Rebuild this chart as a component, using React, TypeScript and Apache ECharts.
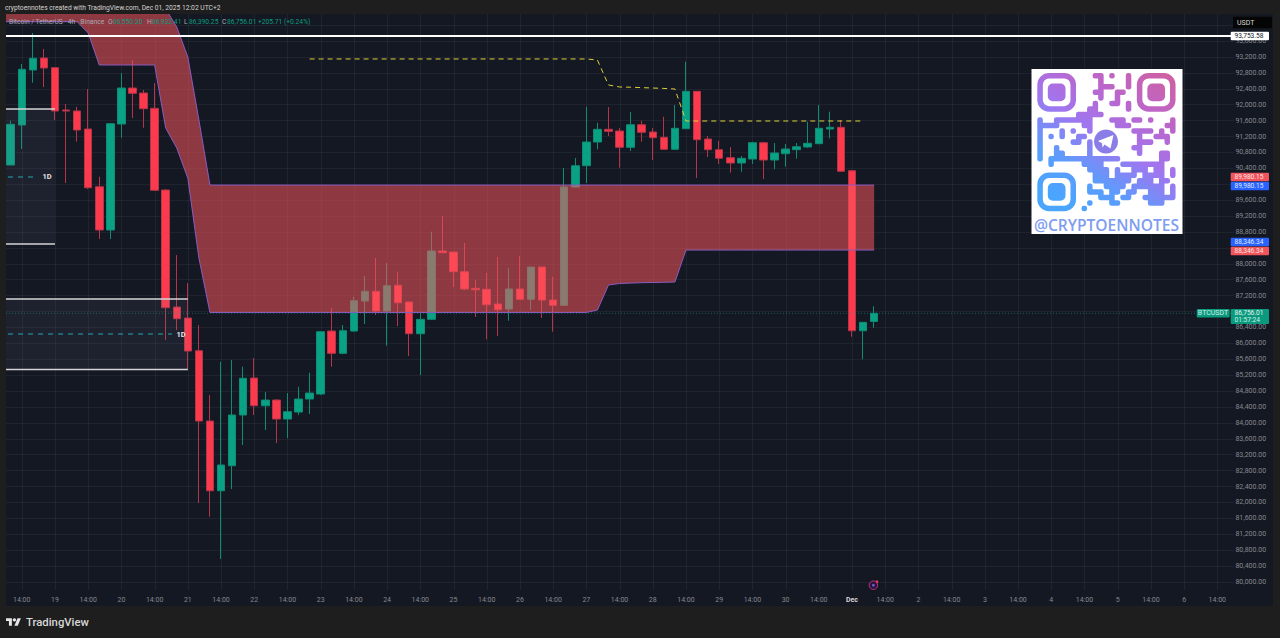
import React, { useEffect, useRef } from "react";
import * as echarts from "echarts";

const timeLabels = ["14:00","19","14:00","20","14:00","21","14:00","22","14:00","23","14:00","24","14:00","25","14:00","26","14:00","27","14:00","28","14:00","29","14:00","30","14:00","Dec","14:00","2","14:00","3","14:00","4","14:00","5","14:00","6","14:00"];

const opens = [90484,91490,92873,93175,92931,91867,91842,91389,89938,88850,91515,92420,92294,91910,89855,86913,86637,85815,84047,82294,82923,84198,85128,84432,84575,84097,84273,84600,84726,86310,85749,86310,87064,87308,86813,87459,87039,86242,86604,88322,88296,87801,87384,87359,86989,86863,87366,87107,87919,87089,86956,89931,90466,91062,91382,91339,90929,91497,91314,91181,90879,91397,92337,91138,90869,90668,90534,90635,91045,90610,90768,90869,90937,91020,91389,91432,90341,86317,86550.3];
const closes = [91508,92891,93167,92923,91842,91842,91364,89913,88850,91523,92420,92287,91900,89848,86896,86619,85807,84047,82294,82941,84198,85121,84432,84575,84097,84281,84600,84751,86292,85749,86317,87072,87308,86813,87449,87022,86242,86604,88322,88279,87801,87366,87348,86971,86846,87366,87107,87919,87089,86956,89931,90466,91062,91382,91331,90929,91497,91306,91171,90879,91407,92337,91120,90869,90653,90534,90653,91045,90610,90786,90887,90944,91030,91407,91432,90326,86317,86529,86756.01];
const lows = [90484,90887,92554,92445,91616,90032,91070,89881,88623,88623,91171,91666,91422,89830,86084,86335,85354,81985,81641,80577,82337,83443,84198,83821,83494,83619,84198,84223,84700,85412,85724,86290,86486,86712,85940,86436,85681,85204,86587,88270,87416,87341,86662,86101,86184,86569,87090,86838,86637,86292,86939,89920,90032,90879,91213,90416,90836,91070,90610,90861,90861,91389,90157,90685,90509,90290,90316,90509,90132,90376,90441,90643,90912,91012,91155,90308,86167,85598,86390.25];
const highs = [91598,93024,93803,93401,92948,92018,91950,92395,90190,91540,92797,93124,92370,92546,89881,88221,87517,86461,84701,85538,85581,85412,85631,84776,84600,84751,84909,85262,86310,86888,86461,87172,87693,88146,88020,87801,87039,86763,88807,89202,88296,88523,87592,87776,88171,87894,88196,87919,87919,87675,90409,90660,91950,91548,91943,91414,91817,91598,91414,91699,91993,93082,92345,91213,91095,90937,90710,91070,91070,91037,91012,91037,91573,91993,91824,91616,90358,86536,86932.41];

const cloudLower = [94087,94087,94087,94087,94087,94087,94087,94087,93804,92999,92999,92999,92999,92999,92999,91415,90912,90157,88146,86776,86776,86776,86776,86776,86776,86776,86776,86776,86776,86776,86776,86776,86776,86776,86776,86776,86776,86776,86776,86776,86776,86776,86776,86776,86776,86776,86776,86776,86776,86776,86776,86776,86776,86776,86838,87467,87505,87515,87525,87530,87535,87542,88346.34,88346.34,88346.34,88346.34,88346.34,88346.34,88346.34,88346.34,88346.34,88346.34,88346.34,88346.34,88346.34,88346.34,88346.34,88346.34,88346.34,88346.34];
const cloudUpper = [95000,95000,95000,95000,95000,95000,95000,95000,95000,95000,95000,95000,95000,95000,95000,94407,93955,93200,91616,89980.15,89980.15,89980.15,89980.15,89980.15,89980.15,89980.15,89980.15,89980.15,89980.15,89980.15,89980.15,89980.15,89980.15,89980.15,89980.15,89980.15,89980.15,89980.15,89980.15,89980.15,89980.15,89980.15,89980.15,89980.15,89980.15,89980.15,89980.15,89980.15,89980.15,89980.15,89980.15,89980.15,89980.15,89980.15,89980.15,89980.15,89980.15,89980.15,89980.15,89980.15,89980.15,89980.15,89980.15,89980.15,89980.15,89980.15,89980.15,89980.15,89980.15,89980.15,89980.15,89980.15,89980.15,89980.15,89980.15,89980.15,89980.15,89980.15,89980.15,89980.15];

const yellowStartBar = 27;
const yellowLevels = [93150,93150,93150,93150,93150,93150,93150,93150,93150,93150,93150,93150,93150,93150,93150,93150,93150,93150,93150,93150,93150,93150,93150,93150,93150,93150,93125,92496,92446,92440,92430,92420,92410,92395,91591,91591,91591,91591,91591,91591,91591,91591,91591,91591,91591,91591,91591,91591,91591,91591,91591];

const zoneEndBars = [4, 16];
const zoneTops = [91892, 87115];
const zoneBottoms = [88498, 85342];
const zoneMids = [90183, 86235];
const zoneDashEnds = [2.47, 14.57];
const zoneLabels = ["1D", "1D"];

const resistanceLevel = 93753.58;
const lastPrice = 86756.01;
const lastPriceLabel = "86,756.01";
const countdownLabel = "01:57:24";
const symbolLabel = "BTCUSDT";
const tagPrices = [93753.58, 89980.15, 89980.15, 88346.34, 88346.34];
const tagTexts = ["93,753.58", "89,980.15", "89,980.15", "88,346.34", "88,346.34"];
const ticksHiddenByTags = [90000, 88400, 86800];

const headerText = "cryptoennotes created with TradingView.com, Dec 01, 2025 12:02 UTC+2";
const legendName = "Bitcoin / TetherUS · 4h · Binance";
const legendKeys = ["O", "H", "L", "C"];
const legendValues = ["86,550.30", "86,932.41", "86,390.25", "86,756.01"];
const legendChange = "+205.71 (+0.24%)";
const currencyLabel = "USDT";
const brandName = "TradingView";
const qrHandle = "@CRYPTOENNOTES";

const qrRows = [
  "..........##.#..#........",
  "...........#....#........",
  "...........###..#........",
  "..........##..##.........",
  "...........#..#..........",
  "..........#..##.#........",
  ".........##.....#........",
  ".......#####.............",
  "#..#######...###.##.#...#",
  "####....##....###......##",
  "#...#.#..#.......####.#.#",
  "#.#.#..##.........#..###.",
  "#.....##.#........###..#.",
  "#..#.....#.......##......",
  "#..##....#........#...##.",
  "#.#############.......##.",
  "..#.....####...########..",
  ".........####.#..###.##.#",
  "..........###.####.####.#",
  "..........#######.###.##.",
  ".........#..####.######.#",
  ".........###.##.##..###.#",
  "...........###.##..######",
  ".........#...##.....###..",
  "........#................",
];

const FONT = "Roboto, sans-serif";
const OUTER = "#1e1e1e";
const PANEL = "#141823";
const GREEN = "#0aa284";
const RED = "#fb3a4e";
const CELL = 11.07;
const GRID_LEFT = -5.9;
const TOP_PRICE = 94281;

function rr(x: number, y: number, w: number, h: number, r: number) {
  return `M${x + r} ${y}H${x + w - r}Q${x + w} ${y} ${x + w} ${y + r}V${y + h - r}Q${x + w} ${y + h} ${x + w - r} ${y + h}H${x + r}Q${x} ${y + h} ${x} ${y + h - r}V${y + r}Q${x} ${y} ${x + r} ${y}Z`;
}

function qrPath(x0: number, y0: number, m: number) {
  let d = "";
  const on = (r: number, c: number) => qrRows[r] && qrRows[r][c] === "#";
  qrRows.forEach((row, r) => {
    for (let c = 0; c < row.length; c++) {
      if (!on(r, c)) continue;
      const x = x0 + c * m;
      const y = y0 + r * m;
      d += rr(x, y, m, m, m * 0.42);
      if (on(r, c + 1)) d += rr(x + m / 2, y, m, m, 0.01);
      if (on(r + 1, c)) d += rr(x, y + m / 2, m, m, 0.01);
    }
  });
  return d;
}

export default function App() {
  const ref = useRef<HTMLDivElement>(null);
  useEffect(() => {
    document.body.style.margin = "0";
    document.body.style.background = OUTER;
    const chart = echarts.init(ref.current!, null, { renderer: "svg" });

    const categories: string[] = ["", ...new Array(111).fill("")];
    const tickIndexes: number[] = [];
    timeLabels.forEach((label, k) => {
      const idx = 2 + 3 * k;
      categories[idx] = label;
      tickIndexes.push(idx);
    });

    const candleData = [["-", "-", "-", "-"] as any].concat(
      opens.map((o, i) => [o, closes[i], lows[i], highs[i]])
    );

    const QX = 1037.3;
    const QY = 73;
    const M = 5.53;
    echarts.graphic.registerShape("qrModules", echarts.graphic.extendPath(qrPath(QX, QY, M), {}));
    echarts.graphic.registerShape("tvMark", echarts.graphic.extendPath("M14 22H7V11H0V4h14v18zM28 22h-8l7.5-18h8L28 22z", {}));
    const qrGrad = new echarts.graphic.LinearGradient(
      1175, 73, 1085, 215,
      [
        { offset: 0, color: "#d0609f" },
        { offset: 0.3, color: "#bb66cc" },
        { offset: 0.55, color: "#9f76f0" },
        { offset: 0.8, color: "#5c9cfc" },
        { offset: 1, color: "#4aa5ff" },
      ],
      true
    );
    const finder = (col: number, row: number) => {
      const x = QX + col * M;
      const y = QY + row * M;
      const s = 7 * M;
      return [
        { type: "rect", z: 92, shape: { x: x + M / 2, y: y + M / 2, width: s - M, height: s - M, r: 9 }, style: { fill: "none", stroke: qrGrad, lineWidth: M } },
        { type: "rect", z: 92, shape: { x: x + 1.9 * M, y: y + 1.9 * M, width: 3.2 * M, height: 3.2 * M, r: 5 }, style: { fill: qrGrad } },
      ];
    };

    const tagStyle = [
      { bg: "#ffffff", fg: "#131722", shift: 1 },
      { bg: "#f2545b", fg: "#fbe4e4", shift: -8 },
      { bg: "#2962ff", fg: "#dfe8ff", shift: 1 },
      { bg: "#2962ff", fg: "#dfe8ff", shift: -8 },
      { bg: "#f2545b", fg: "#fbe4e4", shift: 1 },
    ];

    const legendKeyX = [108, 147, 184, 222];
    const legendValX = [113, 152, 189, 227];
    const legendFont = `6.7px ${FONT}`;
    const legendText: any[] = [
      { type: "text", z: 101, x: 9, y: 22, style: { text: legendName, fill: "#a9acb4", font: legendFont, verticalAlign: "middle" } },
      { type: "text", z: 101, x: 258, y: 22, style: { text: legendChange, fill: "#0d9c80", font: legendFont, verticalAlign: "middle" } },
    ];
    legendKeys.forEach((k, i) => {
      legendText.push({ type: "text", z: 101, x: legendKeyX[i], y: 22, style: { text: k, fill: "#a9acb4", font: legendFont, verticalAlign: "middle" } });
      legendText.push({ type: "text", z: 101, x: legendValX[i], y: 22, style: { text: legendValues[i], fill: "#0d9c80", font: legendFont, verticalAlign: "middle" } });
    });

    const option: any = {
      animation: false,
      backgroundColor: PANEL,
      grid: { left: GRID_LEFT, top: 14, width: 112 * CELL, bottom: 40.1, containLabel: false, outerBoundsMode: "none" },
      tooltip: { show: false },
      xAxis: {
        type: "category",
        data: categories,
        boundaryGap: true,
        axisLine: { show: false },
        axisTick: { show: false },
        splitLine: { show: false },
        axisLabel: {
          interval: 0,
          hideOverlap: false,
          margin: -1.5,
          fontFamily: FONT,
          fontSize: 7,
          color: "#85888f",
          formatter: (v: string) => (v === "Dec" ? "{b|Dec}" : v),
          rich: { b: { color: "#d6d7da", fontFamily: FONT, fontSize: 7, fontWeight: 700 } },
        },
      },
      yAxis: {
        type: "value",
        position: "right",
        min: 79600,
        max: TOP_PRICE,
        interval: 400,
        scale: true,
        axisLine: { show: false },
        axisTick: { show: false },
        splitLine: { show: true, showMinLine: false, showMaxLine: false, lineStyle: { color: "rgba(255,255,255,0.05)", width: 1 } },
        axisLabel: {
          margin: 1.5,
          padding: [2, 0, 0, 0],
          fontFamily: FONT,
          fontSize: 7,
          color: "#85888f",
          align: "left",
          formatter: (v: number) =>
            v < 80000 || v > 93700 || ticksHiddenByTags.includes(v)
              ? ""
              : v.toLocaleString("en-US", { minimumFractionDigits: 2, maximumFractionDigits: 2 }),
        },
      },
      series: [
        {
          name: "timeGrid",
          type: "custom",
          z: 0,
          silent: true,
          data: tickIndexes.map((i) => [i]),
          encode: { x: 0 },
          renderItem: (_: any, api: any) => {
            const a = api.coord([api.value(0), TOP_PRICE]);
            const b = api.coord([api.value(0), 79800]);
            const x = Math.round(a[0]) + 0.5;
            return { type: "line", shape: { x1: x, y1: a[1], x2: x, y2: b[1] }, style: { stroke: "rgba(255,255,255,0.05)", lineWidth: 1 } };
          },
        },
        {
          name: "BTCUSDT",
          type: "candlestick",
          z: 2,
          silent: true,
          barWidth: 8,
          data: candleData,
          itemStyle: { color: GREEN, color0: RED, borderColor: "#0e8c75", borderColor0: "#b53448", borderWidth: 1 },
        },
        {
          name: "cloudBase",
          type: "line",
          z: 3,
          silent: true,
          stack: "cloud",
          symbol: "none",
          data: cloudLower,
          lineStyle: { color: "#8a5cc0", width: 1 },
        },
        {
          name: "cloudBand",
          type: "line",
          z: 3,
          silent: true,
          stack: "cloud",
          symbol: "none",
          data: cloudUpper.map((u, i) => u - cloudLower[i]),
          lineStyle: { color: "#8a5cc0", width: 1 },
          areaStyle: { color: "rgba(255,89,94,0.52)", opacity: 1 },
        },
        {
          name: "trail",
          type: "line",
          z: 4,
          silent: true,
          symbol: "none",
          data: yellowLevels.map((v, k) => [yellowStartBar + 1 + k, v]),
          lineStyle: { color: "#e0cf3a", width: 1, type: [5, 4] },
        },
        {
          name: "zones",
          type: "custom",
          z: 4,
          silent: true,
          data: zoneEndBars.map((b, i) => [b + 1, zoneTops[i], zoneBottoms[i], zoneMids[i], zoneDashEnds[i], i]),
          encode: { x: 0, y: [1, 2] },
          renderItem: (_: any, api: any) => {
            const end = api.coord([api.value(0), api.value(1)]);
            const bot = api.coord([api.value(0), api.value(2)]);
            const mid = api.coord([0, api.value(3)]);
            const x0 = mid[0];
            const dashEnd = x0 + (api.value(4) + 1) * CELL;
            const label = zoneLabels[api.value(5)];
            return {
              type: "group",
              children: [
                { type: "rect", shape: { x: x0, y: end[1], width: end[0] - x0, height: bot[1] - end[1] }, style: { fill: "rgba(130,140,170,0.09)" } },
                { type: "line", shape: { x1: x0, y1: end[1], x2: end[0], y2: end[1] }, style: { stroke: "#d4d4d6", lineWidth: 1.5 } },
                { type: "line", shape: { x1: x0, y1: bot[1], x2: end[0], y2: bot[1] }, style: { stroke: "#d4d4d6", lineWidth: 1.5 } },
                { type: "line", shape: { x1: x0 + 8.4, y1: mid[1], x2: dashEnd, y2: mid[1] }, style: { stroke: "#22a7b4", lineWidth: 1, lineDash: [5, 5] } },
                { type: "text", style: { text: label, x: dashEnd + 9, y: mid[1], fill: "#e4e4e6", font: `700 7.5px ${FONT}`, align: "center", verticalAlign: "middle" } },
              ],
            };
          },
        },
        {
          name: "levels",
          type: "custom",
          z: 4,
          silent: true,
          data: [[resistanceLevel, 0], [lastPrice, 1]],
          encode: { y: 0 },
          renderItem: (params: any, api: any) => {
            const y = api.coord([0, api.value(0)])[1];
            const right = params.coordSys.x + params.coordSys.width;
            return api.value(1) === 0
              ? { type: "line", shape: { x1: 0, y1: y + 1, x2: right, y2: y + 1 }, style: { stroke: "#ffffff", lineWidth: 2 } }
              : { type: "line", shape: { x1: 0, y1: y, x2: right, y2: y }, style: { stroke: "rgba(20,160,135,0.55)", lineWidth: 1, lineDash: [1, 2] } };
          },
        },
        {
          name: "priceTags",
          type: "custom",
          z: 6,
          silent: true,
          clip: false,
          data: tagPrices.map((p, i) => [p, i]),
          encode: { y: 0 },
          renderItem: (_: any, api: any) => {
            const i = api.value(1);
            const s = tagStyle[i];
            const y = api.coord([0, api.value(0)])[1] + s.shift;
            return {
              type: "group",
              children: [
                { type: "rect", shape: { x: 1230.7, y: y - 4.2, width: 38.3, height: 8.4, r: 1 }, style: { fill: s.bg } },
                { type: "text", style: { text: tagTexts[i], x: 1234.5, y, fill: s.fg, font: `6.6px ${FONT}`, verticalAlign: "middle" } },
              ],
            };
          },
        },
        {
          name: "lastTag",
          type: "custom",
          z: 6,
          silent: true,
          clip: false,
          data: [[lastPrice]],
          encode: { y: 0 },
          renderItem: (_: any, api: any) => {
            const y = api.coord([0, api.value(0)])[1];
            return {
              type: "group",
              children: [
                { type: "rect", shape: { x: 1196.7, y: y - 4.3, width: 33, height: 8.6, r: 1 }, style: { fill: "#0a9a7e" } },
                { type: "rect", shape: { x: 1230.7, y: y - 4.3, width: 38.3, height: 15, r: 1 }, style: { fill: "#0a9a7e" } },
                { type: "text", style: { text: symbolLabel, x: 1213, y, fill: "#d7efe9", font: `7px ${FONT}`, align: "center", verticalAlign: "middle" } },
                { type: "text", style: { text: lastPriceLabel, x: 1234.5, y, fill: "#e6f5f1", font: `6.6px ${FONT}`, verticalAlign: "middle" } },
                { type: "text", style: { text: countdownLabel, x: 1234.5, y: y + 7, fill: "#d7efe9", font: `6.6px ${FONT}`, verticalAlign: "middle" } },
              ],
            };
          },
        },
      ],
      graphic: {
        elements: [
          { type: "rect", z: 100, shape: { x: 0, y: 0, width: 6, height: 638 }, style: { fill: OUTER } },
          { type: "rect", z: 100, shape: { x: 0, y: 0, width: 1280, height: 14 }, style: { fill: OUTER } },
          { type: "rect", z: 100, shape: { x: 0, y: 606, width: 1280, height: 32 }, style: { fill: OUTER } },
          { type: "rect", z: 100, shape: { x: 1273, y: 0, width: 7, height: 638 }, style: { fill: OUTER } },
          { type: "text", z: 101, x: 5, y: 8, style: { text: headerText, fill: "#d4d4d4", font: `6.7px ${FONT}`, verticalAlign: "middle" } },
          ...legendText,
          { type: "rect", z: 101, shape: { x: 1233, y: 16.7, width: 39, height: 11.6 }, style: { fill: "#050505" } },
          { type: "text", z: 102, x: 1237, y: 22.5, style: { text: currencyLabel, fill: "#d8d8d8", font: `7px ${FONT}`, verticalAlign: "middle" } },
          { type: "tvMark", z: 101, x: 6, y: 616.5, scaleX: 0.42, scaleY: 0.42, style: { fill: "#e6e6e6" } },
          { type: "circle", z: 101, shape: { cx: 14.4, cy: 619.9, r: 1.7 }, style: { fill: "#e6e6e6" } },
          { type: "text", z: 101, x: 26, y: 622.5, style: { text: brandName, fill: "#d8d8d8", font: `500 11.3px ${FONT}`, verticalAlign: "middle" } },
          { type: "circle", z: 101, shape: { cx: 873.4, cy: 585.2, r: 4.2 }, style: { fill: "#26173a", stroke: "#c9308f", lineWidth: 1 } },
          { type: "circle", z: 101, shape: { cx: 873.4, cy: 585.2, r: 1.4 }, style: { fill: "#7a5ad0" } },
          { type: "circle", z: 102, shape: { cx: 877, cy: 581.6, r: 1.3 }, style: { fill: "#ef3a55" } },
          { type: "rect", z: 90, shape: { x: 1031.5, y: 69, width: 151, height: 165 }, style: { fill: "#ffffff" } },
          { type: "qrModules", z: 91, style: { fill: qrGrad } },
          ...finder(0, 0),
          ...finder(18, 0),
          ...finder(0, 18),
          { type: "circle", z: 92, shape: { cx: 1106, cy: 141.5, r: 12 }, style: { fill: "#8a7de8" } },
          { type: "polygon", z: 93, shape: { points: [[1098, 141], [1113.5, 135], [1110.5, 148.5], [1104.5, 144.5], [1102.5, 147.5], [1102, 143.2]] }, style: { fill: "#ffffff" } },
          { type: "text", z: 92, x: 1106.5, y: 224.5, style: { text: qrHandle, fill: "#7f9df0", font: `600 15.6px "Open Sans", sans-serif`, align: "center", verticalAlign: "middle" } },
        ],
      },
    };
    chart.setOption(option);
    return () => chart.dispose();
  }, []);
  return <div ref={ref} style={{ position: "absolute", left: 0, top: 0, width: 1280, height: 638 }} />;
}
